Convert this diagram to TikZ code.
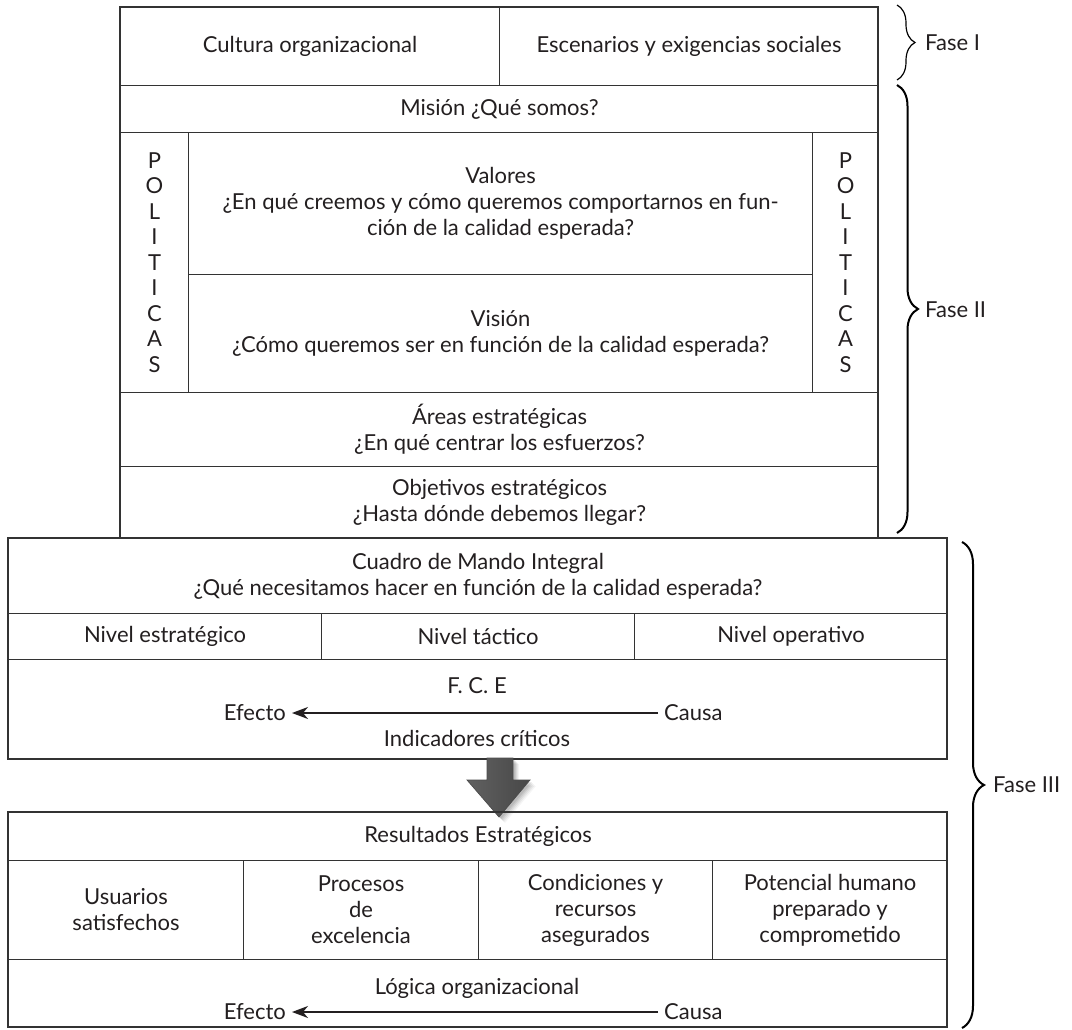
\documentclass[tikz,border=0pt]{standalone}
\usepackage{fontspec}
\setmainfont{Lato}
\usetikzlibrary{decorations.pathreplacing,arrows.meta}
\definecolor{ink}{HTML}{231F20}
\definecolor{linec}{HTML}{333333}
\newcommand\cellbox[6]{%
  \node[cell, minimum width={(#4-#2)*1pt}, minimum height={(#5-#3)*1pt}] (#1) at (#2,#3) {#6};}
\begin{document}
\begin{tikzpicture}[x=1pt,y=-1pt,
  txt/.style={text=ink, font=\fontsize{22}{26}\selectfont, align=center, inner sep=0pt},
  cell/.style={txt, draw=linec, line width=1.1pt, anchor=north west},
  outer/.style={draw=linec, line width=2pt},
  flow/.style={draw=ink, line width=1.6pt, -{Stealth[length=16pt,width=12pt,inset=5pt]}, shorten <=6pt, shorten >=6pt},
  fasebrace/.style={draw=black, line width=2pt, decorate, decoration={brace, amplitude=#1}},
  fasetxt/.style={txt, anchor=west}]
\useasboundingbox (0,0) rectangle (1072,1030);
\fill[white] (0,0) rectangle (1072,1030);

% ---- Fase I and II block ----
\cellbox{cultura}{120}{7}{499}{85}{Cultura organizacional}
\cellbox{escenarios}{499}{7}{878}{85}{Escenarios y exigencias sociales}
\cellbox{mision}{120}{85}{878}{132}{Misión ¿Qué somos?}
\node[cell, minimum width=68pt, minimum height=260pt, font=\fontsize{22}{25.5}\selectfont] (polL) at (120,132) {P\\O\\L\\I\\T\\I\\C\\A\\S};
\node[cell, minimum width=66pt, minimum height=260pt, font=\fontsize{22}{25.5}\selectfont] (polR) at (812,132) {P\\O\\L\\I\\T\\I\\C\\A\\S};
\cellbox{valores}{188}{132}{812}{274}{Valores\\¿En qué creemos y cómo queremos comportarnos en fun-\\ción de la calidad esperada?}
\cellbox{vision}{188}{274}{812}{392}{Visión\\¿Cómo queremos ser en función de la calidad esperada?}
\cellbox{areas}{120}{392}{878}{466}{Áreas estratégicas\\¿En qué centrar los esfuerzos?}
\cellbox{objetivos}{120}{466}{878}{538}{Objetivos estratégicos\\¿Hasta dónde debemos llegar?}
\draw[outer] (120,7) rectangle (878,538);

% ---- Cuadro de Mando Integral ----
\cellbox{cuadro}{8}{538}{947}{613}{Cuadro de Mando Integral\\¿Qué necesitamos hacer en función de la calidad esperada?}
\cellbox{nivelE}{8}{613}{321}{659}{Nivel estratégico}
\cellbox{nivelT}{321}{613}{634}{659}{Nivel táctico}
\cellbox{nivelO}{634}{613}{947}{659}{Nivel operativo}
\cellbox{fcebox}{8}{659}{947}{759}{}
\node[txt] (fce) at (477,686) {F. C. E};
\node[txt, anchor=west] (causaA) at (664,713) {Causa};
\node[txt, anchor=east] (efectoA) at (286,713) {Efecto};
\draw[flow] (causaA.west) -- (efectoA.east);
\node[txt] (indic) at (477,738) {Indicadores críticos};
\draw[outer] (8,538) rectangle (947,759);

% ---- downward arrow ----
\foreach \d/\o in {6/0.04,5/0.05,4/0.06,3/0.07,2/0.08}{
  \fill[black, opacity=\o] (487+\d,758+\d) -- (513+\d,758+\d) -- (513+\d,780+\d) -- (530+\d,780+\d)
    -- (499+\d,817+\d) -- (467+\d,780+\d) -- (487+\d,780+\d) -- cycle;}
\shade[left color=black!62, middle color=gray!50, right color=black!72, draw=black!70, line width=0.7pt]
  (487,758) -- (513,758) -- (513,780) -- (530,780) -- (499,817) -- (467,780) -- (487,780) -- cycle;

% ---- Resultados ----
\cellbox{resultados}{8}{812}{947}{860}{Resultados Estratégicos}
\cellbox{usuarios}{8}{860}{243}{959}{Usuarios\\satisfechos}
\cellbox{procesos}{243}{860}{478}{959}{Procesos\\de\\excelencia}
\cellbox{condiciones}{478}{860}{712}{959}{Condiciones y\\recursos\\asegurados}
\cellbox{potencial}{712}{860}{947}{959}{Potencial humano\\preparado y\\comprometido}
\cellbox{logicabox}{8}{959}{947}{1027}{}
\node[txt] (logica) at (477,988) {Lógica organizacional};
\node[txt, anchor=west] (causaB) at (664,1012) {Causa};
\node[txt, anchor=east] (efectoB) at (286,1012) {Efecto};
\draw[flow] (causaB.west) -- (efectoB.east);
\draw[outer] (8,812) rectangle (947,1027);

% ---- phases ----
\draw[fasebrace=18pt, line width=1.2pt] (897,5) -- (897,80);
\node[fasetxt] (f1) at (925,43) {Fase I};
\draw[fasebrace=21pt] (897,85) -- (897,533);
\node[fasetxt] (f2) at (925,310) {Fase II};
\draw[fasebrace=22pt] (962,542) -- (962,1028);
\node[fasetxt] (f3) at (993,785) {Fase III};
\end{tikzpicture}
\end{document}
